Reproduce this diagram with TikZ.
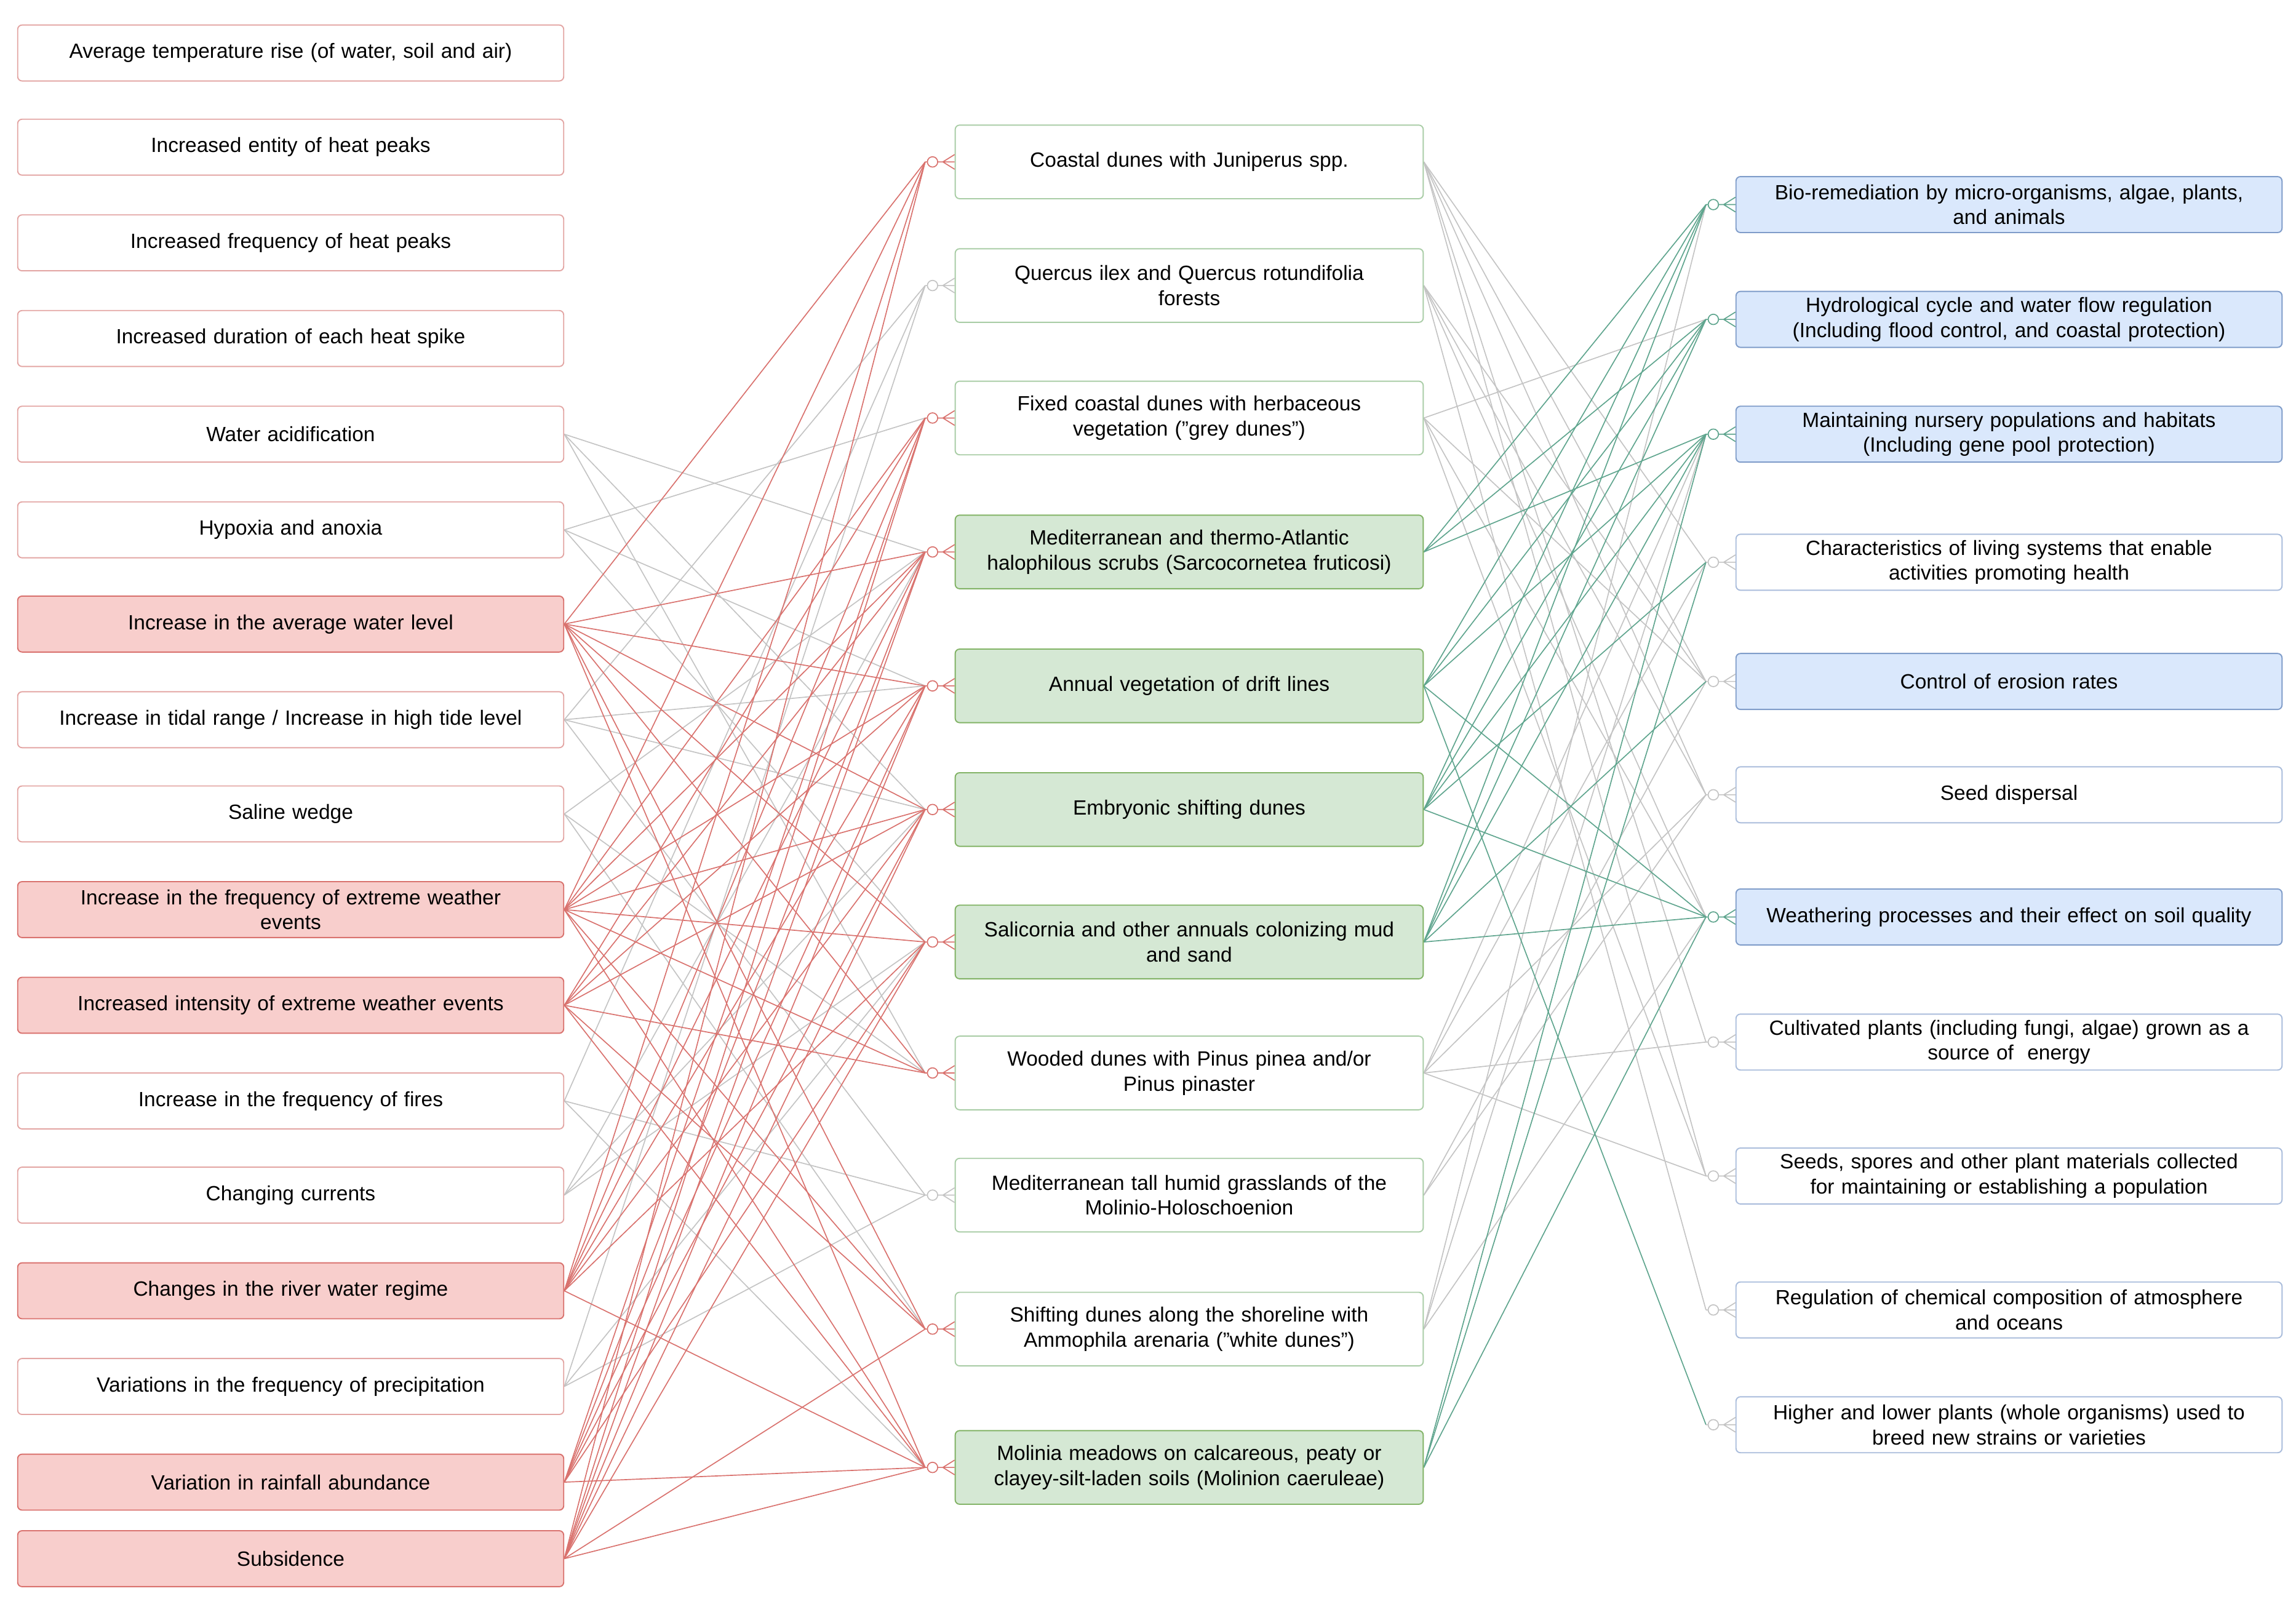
\documentclass[tikz,border=0pt]{standalone}
\usepackage{fontspec}
\setmainfont{Liberation Sans}
\usetikzlibrary{positioning,calc,backgrounds}
\definecolor{redfill}{HTML}{F8CECC}
\definecolor{redline}{HTML}{D9726E}
\definecolor{redpale}{HTML}{E3A6A4}
\definecolor{greenfill}{HTML}{D5E8D4}
\definecolor{greenline}{HTML}{82B366}
\definecolor{greenpale}{HTML}{A9CDA6}
\definecolor{bluefill}{HTML}{DAE8FC}
\definecolor{blueline}{HTML}{7F9CC9}
\definecolor{bluepale}{HTML}{A9BCDB}
\definecolor{teal}{HTML}{5FA58E}
\definecolor{greyl}{HTML}{C4C4C4}
\tikzset{
  box/.style = {draw, rounded corners=3pt, align=center, inner sep=1pt,
    font=\fontsize{14}{17}\selectfont, line width=0.8pt},
  lbox/.style = {box, minimum width=371pt, minimum height=38pt, text width=369pt, draw=redpale},
  lred/.style = {lbox, fill=redfill, draw=redline},
  mbox/.style = {box, minimum width=318pt, minimum height=50pt, text width=316pt, draw=greenpale},
  mgreen/.style = {mbox, fill=greenfill, draw=greenline},
  rbox/.style = {box, minimum width=371pt, minimum height=38pt, text width=369pt, draw=bluepale},
  rblue/.style = {rbox, fill=bluefill, draw=blueline},
  link/.style = {line width=0.7pt}
}
\begin{document}
\begin{tikzpicture}[x=1pt, y=-1pt]
\useasboundingbox (0,0) rectangle (1560,1086);
% left column
\node (l1) [lbox] at (197.5,36) {Average temperature rise (of water, soil and air)};
\node (l2) [lbox] at (197.5,100) {Increased entity of heat peaks};
\node (l3) [lbox] at (197.5,165) {Increased frequency of heat peaks};
\node (l4) [lbox] at (197.5,230) {Increased duration of each heat spike};
\node (l5) [lbox] at (197.5,295) {Water acidification};
\node (l6) [lbox] at (197.5,360) {Hypoxia and anoxia};
\node (l7) [lred] at (197.5,424) {Increase in the average water level};
\node (l8) [lbox] at (197.5,489) {Increase in tidal range / Increase in high tide level};
\node (l9) [lbox] at (197.5,553) {Saline wedge};
\node (l10) [lred] at (197.5,618) {Increase in the frequency of extreme weather\\events};
\node (l11) [lred] at (197.5,683) {Increased intensity of extreme weather events};
\node (l12) [lbox] at (197.5,748) {Increase in the frequency of fires};
\node (l13) [lbox] at (197.5,812) {Changing currents};
\node (l14) [lred] at (197.5,877) {Changes in the river water regime};
\node (l15) [lbox] at (197.5,942) {Variations in the frequency of precipitation};
\node (l16) [lred] at (197.5,1007) {Variation in rainfall abundance};
\node (l17) [lred] at (197.5,1059) {Subsidence};
% middle column
\node (m1) [mbox] at (808,110) {Coastal dunes with Juniperus spp.};
\node (m2) [mbox] at (808,194) {Quercus ilex and Quercus rotundifolia\\forests};
\node (m3) [mbox] at (808,284) {Fixed coastal dunes with herbaceous\\vegetation ("grey dunes")};
\node (m4) [mgreen] at (808,375) {Mediterranean and thermo-Atlantic\\halophilous scrubs (Sarcocornetea fruticosi)};
\node (m5) [mgreen] at (808,466) {Annual vegetation of drift lines};
\node (m6) [mgreen] at (808,550) {Embryonic shifting dunes};
\node (m7) [mgreen] at (808,640) {Salicornia and other annuals colonizing mud\\and sand};
\node (m8) [mbox] at (808,729) {Wooded dunes with Pinus pinea and/or\\Pinus pinaster};
\node (m9) [mbox] at (808,812) {Mediterranean tall humid grasslands of the\\Molinio-Holoschoenion};
\node (m10) [mbox] at (808,903) {Shifting dunes along the shoreline with\\Ammophila arenaria ("white dunes")};
\node (m11) [mgreen] at (808,997) {Molinia meadows on calcareous, peaty or\\clayey-silt-laden soils (Molinion caeruleae)};
% right column
\node (r1) [rblue] at (1365,139) {Bio-remediation by micro-organisms, algae, plants,\\and animals};
\node (r2) [rblue] at (1365,217) {Hydrological cycle and water flow regulation\\(Including flood control, and coastal protection)};
\node (r3) [rblue] at (1365,295) {Maintaining nursery populations and habitats\\(Including gene pool protection)};
\node (r4) [rbox] at (1365,382) {Characteristics of living systems that enable\\activities promoting health};
\node (r5) [rblue] at (1365,463) {Control of erosion rates};
\node (r6) [rbox] at (1365,540) {Seed dispersal};
\node (r7) [rblue] at (1365,623) {Weathering processes and their effect on soil quality};
\node (r8) [rbox] at (1365,708) {Cultivated plants (including fungi, algae) grown as a\\source of \ energy};
\node (r9) [rbox] at (1365,799) {Seeds, spores and other plant materials collected\\for maintaining or establishing a population};
\node (r10) [rbox] at (1365,890) {Regulation of chemical composition of atmosphere\\and oceans};
\node (r11) [rbox] at (1365,968) {Higher and lower plants (whole organisms) used to\\breed new strains or varieties};
\begin{scope}[on background layer]
% drivers to habitats
\foreach \s/\col/\tlist in {l5/greyl/{4,6,8}, l6/greyl/{3,5,7}, l8/greyl/{2,5,6,9},
    l9/greyl/{4,8,10}, l12/greyl/{2,9,11}, l13/greyl/{4,6,7}, l15/greyl/{2,7,9},
    l7/redline/{1,4,5,6,7,8,10,11}, l10/redline/{1,3,4,5,6,7,8,10,11},
    l11/redline/{3,4,5,6,8,10,11}, l14/redline/{1,3,4,5,6,7,11},
    l16/redline/{3,4,5,6,7,11}, l17/redline/{1,3,4,5,6,7,10,11}}
  \foreach \t in \tlist
    \draw[link, \col] (\s.east) -- ($(m\t.west)+(-20,0)$);
% habitats to services
\foreach \s/\col/\tlist in {1/greyl/{4,5,6,8,9}, 2/greyl/{5,6,7,10}, 3/greyl/{2,5,7,9},
    8/greyl/{3,4,6,8,9}, 9/greyl/{5,6}, 10/greyl/{1,3,7},
    4/teal/{1,2,3}, 5/teal/{1,2,3,7,11}, 6/teal/{1,2,3,4,7},
    7/teal/{1,2,3,5,7}, 11/teal/{3,4,7}}
  \foreach \t in \tlist
    \draw[link, \col] (m\s.east) -- ($(r\t.west)+(-20,0)$);
\end{scope}
% zero-or-many ends
\foreach \n/\col in {m1/redline, m2/greyl, m3/redline, m4/redline, m5/redline, m6/redline,
    m7/redline, m8/redline, m9/greyl, m10/redline, m11/redline,
    r1/teal, r2/teal, r3/teal, r4/greyl, r5/greyl, r6/greyl, r7/teal,
    r8/greyl, r9/greyl, r10/greyl, r11/greyl}
{
  \draw[link, \col, fill=white] ($(\n.west)+(-15,0)$) circle (3.5);
  \draw[link, \col] ($(\n.west)+(-20,0)$) -- ($(\n.west)+(-18.5,0)$)
    ($(\n.west)+(-11.5,0)$) -- (\n.west)
    ($(\n.west)+(-8,0)$) -- ($(\n.west)+(0,-5)$)
    ($(\n.west)+(-8,0)$) -- ($(\n.west)+(0,5)$);
}
\end{tikzpicture}
\end{document}
